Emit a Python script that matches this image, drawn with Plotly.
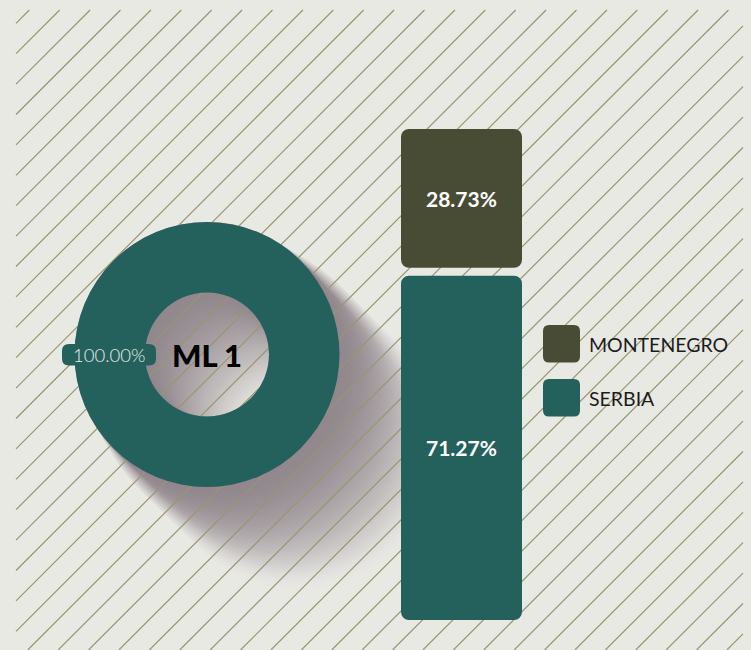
import math
import plotly.graph_objects as go

# ---- data -------------------------------------------------------------
DONUT_TITLE = "ML 1"
DONUT_LABELS = ["ML 1"]
DONUT_VALUES = [100.0]

COUNTRIES = ["MONTENEGRO", "SERBIA"]
SHARES = [28.73, 71.27]          # percent, stacked top -> bottom

# ---- styling ----------------------------------------------------------
W, H = 751, 650
BG = (233, 233, 228)
TEAL = "#24615c"
OLIVE = "#494c34"
HATCH = "#979672"
SHADOW_DARK = (145, 135, 141)
COLORS = {"MONTENEGRO": OLIVE, "SERBIA": TEAL}
SEG_GAP = 1.66                    # gap between stacked segments (value units)
FONT = "Lato"

# donut geometry in page pixels
CX, CY, R_OUT = 207.0, 354.5, 132.5
HOLE = 0.468
R_IN = R_OUT * HOLE


def rgb(c):
    return "rgb(%d,%d,%d)" % tuple(int(round(v)) for v in c)


def mix(a, b, t):
    return tuple(a[i] + (b[i] - a[i]) * t for i in range(3))


def circle_pts(cx, cy, r, n=64, reverse=False):
    pts = [(cx + r * math.cos(2 * math.pi * k / n), cy + r * math.sin(2 * math.pi * k / n)) for k in range(n)]
    return pts[::-1] if reverse else pts


def ring_path(cx, cy, ro, ri):
    out = circle_pts(cx, cy, ro)
    inn = circle_pts(cx, cy, ri, reverse=True)
    p = "M%.1f,%.1f " % out[0] + " ".join("L%.1f,%.1f" % q for q in out[1:]) + " Z "
    p += "M%.1f,%.1f " % inn[0] + " ".join("L%.1f,%.1f" % q for q in inn[1:]) + " Z"
    return p


def rounded_rect(x0, y0, x1, y1, r):
    return (f"M{x0 + r},{y0} L{x1 - r},{y0} Q{x1},{y0} {x1},{y0 + r} "
            f"L{x1},{y1 - r} Q{x1},{y1} {x1 - r},{y1} L{x0 + r},{y1} "
            f"Q{x0},{y1} {x0},{y1 - r} L{x0},{y0 + r} Q{x0},{y0} {x0 + r},{y0} Z")


shapes = []

# ---- long shadow behind the donut (painted light -> dark) ---------------
T_MAX = 95.0
shadow_layers = []
n_steps = 40
for i in range(n_steps):
    t = T_MAX * i / (n_steps - 1)
    a = 1.0 - (t / T_MAX) ** 1.6
    d_max = 10.0 * min(1.0, t / 30.0)
    for j in range(5):
        d = d_max * j / 4.0
        if j > 0 and d_max < 0.5:
            continue
        g = 1.0 - j / 5.0
        shadow_layers.append((a * g, t, d))
shadow_layers.sort(key=lambda s: s[0])
for dark, t, d in shadow_layers:
    shapes.append(dict(
        type="path", xref="x", yref="y", layer="below",
        path=ring_path(CX + t, CY + t, R_OUT + d, max(R_IN - d, 1)),
        fillcolor=rgb(mix(BG, SHADOW_DARK, dark)), line=dict(width=0),
    ))

# ---- diagonal hatch over the backdrop ----------------------------------
HX0, HX1, HY0, HY1 = 16, 743, 10, 650
segs = []
c = 39.3
while c < HX1 + HY1:
    lo = max(HX0, c - HY1)
    hi = min(HX1, c - HY0)
    if hi > lo:
        segs.append("M%.1f,%.1f L%.1f,%.1f" % (lo, c - lo, hi, c - hi))
    c += 30.4
shapes.append(dict(type="path", xref="x", yref="y", layer="below",
                   path=" ".join(segs), line=dict(color=HATCH, width=1.2)))

fig = go.Figure()

# invisible trace that anchors the full-page pixel frame
fig.add_trace(go.Scatter(x=[0, W], y=[0, H], mode="markers", marker=dict(opacity=0),
                         hoverinfo="skip", showlegend=False, xaxis="x", yaxis="y"))

# ---- donut ------------------------------------------------------------
fig.add_trace(go.Pie(
    labels=DONUT_LABELS, values=DONUT_VALUES, hole=HOLE, sort=False,
    marker=dict(colors=[TEAL], line=dict(width=0)),
    textinfo="none", hoverinfo="skip", showlegend=False,
    domain=dict(x=[(CX - R_OUT) / W, (CX + R_OUT) / W],
                y=[(H - CY - R_OUT) / H, (H - CY + R_OUT) / H]),
))

# ---- stacked share bar ------------------------------------------------
base = 0.0
ann = []
for name, val in reversed(list(zip(COUNTRIES, SHARES))):
    fig.add_trace(go.Bar(
        x=[0], y=[val], base=[base], width=1,
        marker=dict(color=COLORS[name], line=dict(width=0)),
        xaxis="x2", yaxis="y2", hoverinfo="skip", showlegend=False,
    ))
    ann.append(dict(xref="x2", yref="y2", x=0, y=base + val / 2.0, text="%.2f%%" % val,
                    showarrow=False, font=dict(family=FONT, size=21, color="white", weight="bold")))
    base += val + SEG_GAP

# ---- donut labels -----------------------------------------------------
shapes.append(dict(type="path", xref="x", yref="y", layer="above",
                   path=rounded_rect(62, 344, 156, 365.5, 7), fillcolor=TEAL, line=dict(width=0)))
ann.append(dict(xref="x", yref="y", x=108.5, y=355, text="%.2f%%" % (DONUT_VALUES[0] / sum(DONUT_VALUES) * 100),
                showarrow=False, font=dict(family=FONT, size=18.5, color="#e6eeeb", weight=300)))
ann.append(dict(xref="x", yref="y", x=CX, y=CY, text=DONUT_TITLE, showarrow=False,
                font=dict(family=FONT, size=31, color="black", weight=900)))

# ---- legend -----------------------------------------------------------
for k, name in enumerate(COUNTRIES):
    y0 = 325 + k * 54
    shapes.append(dict(type="path", xref="x", yref="y", layer="above",
                       path=rounded_rect(543, y0, 580, y0 + 37.5, 6), fillcolor=COLORS[name], line=dict(width=0)))
    ann.append(dict(xref="x", yref="y", x=587, y=y0 + 19, text=name, xanchor="left", showarrow=False,
                    font=dict(family=FONT, size=19.5, color="#1c1c1c")))

bar_top = H - 129
bar_bot = H - 620
fig.update_layout(
    width=W, height=H, margin=dict(l=0, r=0, t=0, b=0),
    paper_bgcolor=rgb(BG), plot_bgcolor="rgba(0,0,0,0)",
    barmode="overlay", barcornerradius=8,
    xaxis=dict(domain=[0, 1], range=[0, W], visible=False, fixedrange=True),
    yaxis=dict(domain=[0, 1], range=[H, 0], visible=False, fixedrange=True),
    xaxis2=dict(domain=[401 / W, 522 / W], range=[-0.5, 0.5], visible=False, anchor="y2", fixedrange=True),
    yaxis2=dict(domain=[bar_bot / H, bar_top / H], range=[0, sum(SHARES) + SEG_GAP],
                visible=False, anchor="x2", fixedrange=True),
    shapes=shapes, annotations=ann, showlegend=False,
)

fig.write_html("out.html")
